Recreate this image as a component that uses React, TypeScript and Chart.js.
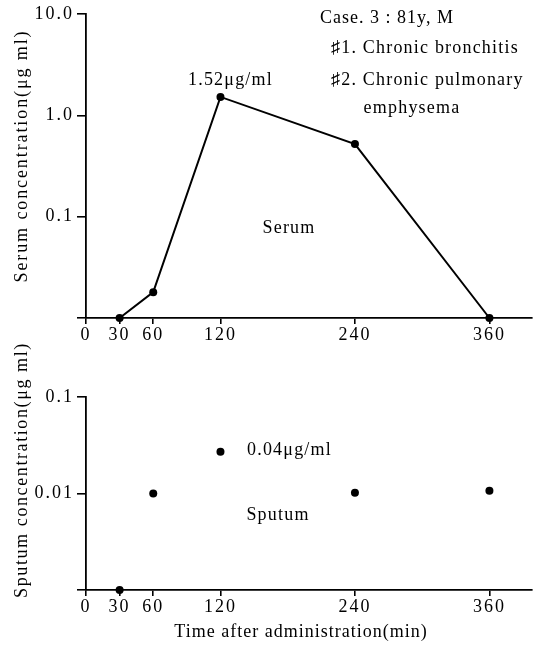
import React, { useEffect, useRef } from "react";
import { Chart, registerables } from "chart.js";
Chart.register(...registerables);

// ---- data ----
const timePoints = [30, 60, 120, 240, 360];
const serumValues = [0.01, 0.018, 1.52, 0.52, 0.01];
const sputumValues = [0.001, 0.01, 0.027, 0.0102, 0.0107];
const xTickValues = [0, 30, 60, 120, 240, 360];
const serumTickValues = [0.01, 0.1, 1, 10];
const serumTickLabels = ["", "0.1", "1.0", "10.0"];
const sputumTickValues = [0.001, 0.01, 0.1];
const sputumTickLabels = ["", "0.01", "0.1"];
const X_MAX = 398;

const FONT_FAMILY = "'Liberation Serif', 'DejaVu Serif', serif";
const TICK_FONT = { family: FONT_FAMILY, size: 18 };

type TextItem = {
  text: string;
  x: number;
  y: number;
  align?: CanvasTextAlign;
  rotate?: boolean;
  size?: number;
  spacing?: number;
};

const textPlugin = {
  id: "textPlugin",
  beforeDraw(chart: any) {
    chart.ctx.letterSpacing = "2px";
  },
  afterDraw(chart: any, _args: any, opts: any) {
    const ctx = chart.ctx as CanvasRenderingContext2D;
    const items: TextItem[] = (opts && opts.items) || [];
    items.forEach((it) => {
      ctx.save();
      (ctx as any).letterSpacing = `${it.spacing ?? 1.5}px`;
      ctx.font = `${it.size ?? 18}px ${FONT_FAMILY}`;
      ctx.fillStyle = "#000";
      ctx.textBaseline = "middle";
      ctx.textAlign = it.align ?? "left";
      ctx.translate(it.x, it.y);
      if (it.rotate) ctx.rotate(-Math.PI / 2);
      ctx.fillText(it.text, 0, 0);
      ctx.restore();
    });
    (ctx as any).letterSpacing = "0px";
  },
};

function makeConfig(opts: {
  values: number[];
  showLine: boolean;
  yMin: number;
  yMax: number;
  yTicks: number[];
  yLabels: string[];
  top: number;
  xAxisHeight: number;
  texts: TextItem[];
}): any {
  return {
    type: "line",
    data: {
      labels: timePoints,
      datasets: [
        {
          data: timePoints.map((t, i) => ({ x: t, y: opts.values[i] })),
          borderColor: "#000",
          backgroundColor: "#000",
          borderWidth: 2,
          pointRadius: 4,
          pointBackgroundColor: "#000",
          pointBorderWidth: 0,
          showLine: opts.showLine,
          tension: 0,
          clip: false,
        },
      ],
    },
    options: {
      responsive: false,
      animation: false,
      events: [],
      layout: { padding: { top: opts.top, left: 0, right: 0, bottom: 0 } },
      plugins: {
        legend: { display: false },
        tooltip: { enabled: false },
        title: { display: false },
        textPlugin: { items: opts.texts },
      },
      scales: {
        x: {
          type: "linear",
          min: 0,
          max: X_MAX,
          afterBuildTicks: (s: any) => {
            s.ticks = xTickValues.map((v) => ({ value: v }));
          },
          afterFit: (s: any) => {
            s.height = opts.xAxisHeight;
          },
          ticks: {
            font: TICK_FONT,
            color: "#000",
            padding: 0,
            maxRotation: 0,
            autoSkip: false,
            callback: (v: number) => String(v),
          },
          grid: { drawOnChartArea: false, drawTicks: true, tickLength: 6, color: "#000", lineWidth: 1.6 },
          border: { display: true, color: "#000", width: 1.8 },
        },
        y: {
          type: "logarithmic",
          min: opts.yMin,
          max: opts.yMax,
          afterBuildTicks: (s: any) => {
            s.ticks = opts.yTicks.map((v) => ({ value: v }));
          },
          afterFit: (s: any) => {
            s.width = 86;
          },
          ticks: {
            font: TICK_FONT,
            color: "#000",
            padding: 3,
            autoSkip: false,
            callback: (v: number) => {
              const i = opts.yTicks.findIndex((t) => Math.abs(t - v) / t < 1e-6);
              return i >= 0 ? opts.yLabels[i] : "";
            },
          },
          grid: { drawOnChartArea: false, drawTicks: true, tickLength: 9, color: "#000", lineWidth: 1.6 },
          border: { display: true, color: "#000", width: 1.8 },
        },
      },
    },
    plugins: [textPlugin],
  };
}

const serumTexts: TextItem[] = [
  { text: "Serum concentration(\u03bcg ml)", x: 22, y: 156, align: "center", rotate: true, spacing: 1.9 },
  { text: "Case. 3 : 81y, M", x: 387, y: 18, align: "center", spacing: 1 },
  { text: "\u266f1. Chronic bronchitis", x: 331, y: 48, align: "left", spacing: 1.2 },
  { text: "\u266f2. Chronic pulmonary", x: 331, y: 80, align: "left", spacing: 1.2 },
  { text: "emphysema", x: 412, y: 108, align: "center", spacing: 1.2 },
  { text: "1.52\u03bcg/ml", x: 188, y: 80, align: "left", spacing: 1.2 },
  { text: "Serum", x: 289, y: 228, align: "center", spacing: 1.2 },
];

// bottom canvas starts at page y = 320
const sputumTexts: TextItem[] = [
  { text: "Sputum concentration(\u03bcg ml)", x: 22, y: 150, align: "center", rotate: true, spacing: 1.6 },
  { text: "0.04\u03bcg/ml", x: 247, y: 130, align: "left", spacing: 1.2 },
  { text: "Sputum", x: 278, y: 195, align: "center", spacing: 1.2 },
  { text: "Time after administration(min)", x: 301, y: 312, align: "center", spacing: 1.0 },
];

function ChartCanvas(props: { config: any; width: number; height: number; top: number }) {
  const ref = useRef<HTMLCanvasElement | null>(null);
  useEffect(() => {
    if (!ref.current) return;
    const chart = new Chart(ref.current, props.config);
    return () => chart.destroy();
  }, []);
  return (
    <canvas
      ref={ref}
      width={props.width}
      height={props.height}
      style={{ position: "absolute", left: 0, top: props.top, width: props.width, height: props.height, display: "block" }}
    />
  );
}

export default function App() {
  const serumConfig = makeConfig({
    values: serumValues,
    showLine: true,
    yMin: 0.01,
    yMax: 10,
    yTicks: serumTickValues,
    yLabels: serumTickLabels,
    top: 14,
    xAxisHeight: 27,
    texts: serumTexts,
  });
  const sputumConfig = makeConfig({
    values: sputumValues,
    showLine: false,
    yMin: 0.001,
    yMax: 0.1,
    yTicks: sputumTickValues,
    yLabels: sputumTickLabels,
    top: 77,
    xAxisHeight: 58,
    texts: sputumTexts,
  });
  return (
    <div style={{ position: "absolute", left: 0, top: 0, width: 536, height: 648, background: "#fff" }}>
      <ChartCanvas config={serumConfig} width={536} height={345} top={0} />
      <ChartCanvas config={sputumConfig} width={536} height={328} top={320} />
    </div>
  );
}
